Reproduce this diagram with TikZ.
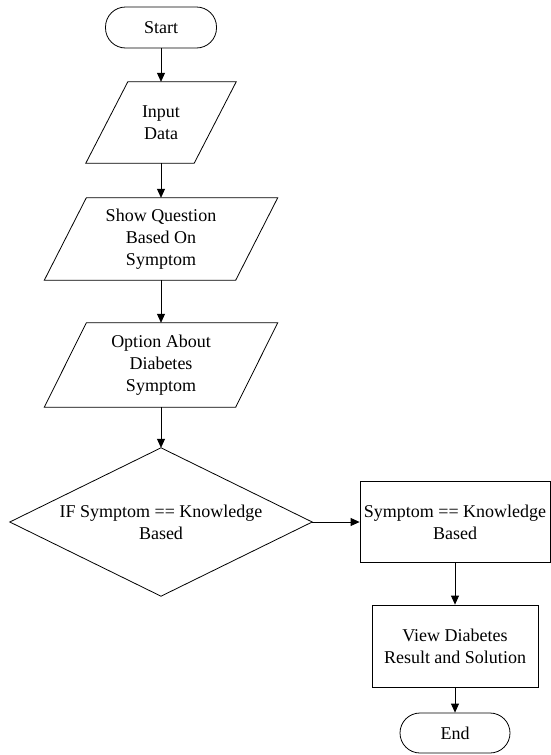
\documentclass[tikz,border=0pt]{standalone}
\usepackage{fontspec}
\setmainfont{Liberation Serif}
\newfontfamily\timesfont{Liberation Serif}
\usetikzlibrary{arrows.meta}
\begin{document}
\begin{tikzpicture}[x=1pt,y=-1pt,
  every node/.style={font=\timesfont\fontsize{18}{22}\selectfont, align=center, inner sep=0pt},
  term/.style={draw, rounded corners=20pt, minimum width=#1, minimum height=41pt},
  slot/.style={minimum width=#1},
  procbox/.style={draw, minimum width=#1},
  conn/.style={draw, line width=0.8pt, -{Triangle[length=9pt,width=8pt]}},
  shapeline/.style={line width=0.8pt}
]
\useasboundingbox (0,0) rectangle (551,755);

\node[term=111pt, line width=0.8pt] (start) at (161,27.5) {Start};
\node[slot=150pt, minimum height=81pt] (inp) at (161,122.5) {Input\\Data};
\node[slot=233pt, minimum height=82pt] (show) at (161,239) {Show Question\\Based On\\Symptom};
\node[slot=233pt, minimum height=84pt] (opt) at (161,365) {Option About\\Diabetes\\Symptom};
\node[minimum width=302pt, minimum height=148pt] (dec) at (161,522) {IF Symptom == Knowledge\\Based};
\node[procbox=190pt, minimum height=81pt, line width=0.8pt] (kb) at (455,522) {Symptom == Knowledge\\Based};
\node[procbox=166pt, minimum height=82pt, line width=0.8pt] (view) at (455,646) {View Diabetes\\Result and Solution};
\node[term=110pt, minimum height=40pt, line width=0.8pt] (end) at (455,733) {End};

\draw[shapeline] (inp.south west) -- ([xshift=-42pt]inp.south east) -- (inp.north east) -- ([xshift=42pt]inp.north west) -- cycle;
\draw[shapeline] (show.south west) -- ([xshift=-42pt]show.south east) -- (show.north east) -- ([xshift=42pt]show.north west) -- cycle;
\draw[shapeline] (opt.south west) -- ([xshift=-42pt]opt.south east) -- (opt.north east) -- ([xshift=42pt]opt.north west) -- cycle;
\draw[shapeline] (dec.north) -- (dec.east) -- (dec.south) -- (dec.west) -- cycle;

\draw[conn] (start.south) -- (inp.north);
\draw[conn] (inp.south) -- (show.north);
\draw[conn] (show.south) -- (opt.north);
\draw[conn] (opt.south) -- (dec.north);
\draw[conn] (dec.east) -- (kb.west);
\draw[conn] (kb.south) -- (view.north);
\draw[conn] (view.south) -- (end.north);
\end{tikzpicture}
\end{document}
